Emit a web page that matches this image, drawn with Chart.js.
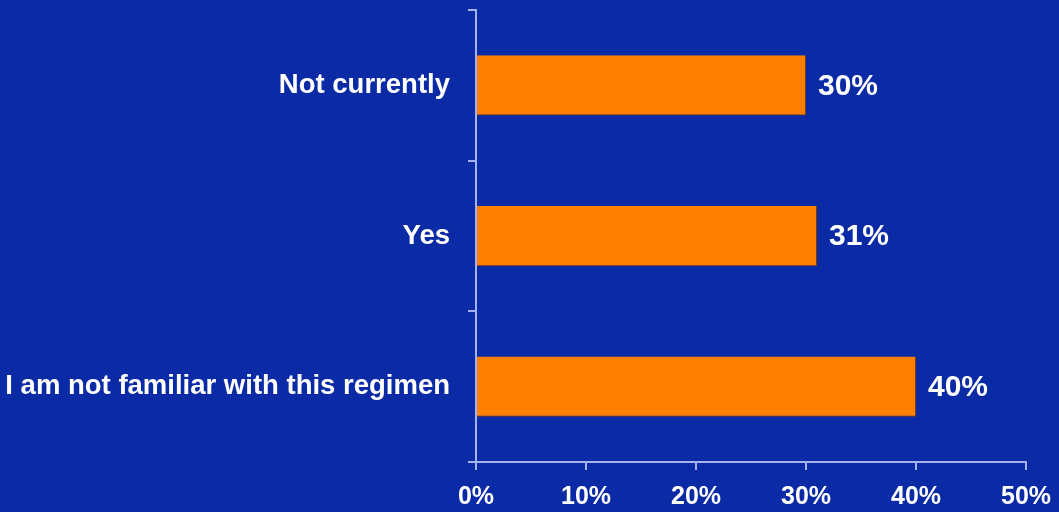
<!DOCTYPE html>
<html lang="en">
<head>
  <meta charset="UTF-8">
  <title>Regimen familiarity</title>
  <script src="https://cdn.jsdelivr.net/npm/chart.js"></script>
  <style>
    html, body { margin: 0; padding: 0; background: #0b2aa6; }
    #wrap { width: 1059px; height: 512px; }
  </style>
</head>
<body>
  <div id="wrap">
    <canvas id="barChart"></canvas>
  </div>

  <script>
    // values
    const categories = ['Not currently', 'Yes', 'I am not familiar with this regimen'];
    const percents = [30, 31, 40];
    const xTicks = [0, 10, 20, 30, 40, 50];

    const axisColor = '#a3b2ee';
    const family = '"Liberation Sans", Arial, sans-serif';

    // writes the value next to each bar end
    const valueLabels = {
      id: 'valueLabels',
      afterDatasetsDraw(chart) {
        const ctx = chart.ctx;
        const meta = chart.getDatasetMeta(0);
        ctx.save();
        ctx.fillStyle = '#ffffff';
        ctx.font = 'bold 30px ' + family;
        ctx.textAlign = 'left';
        ctx.textBaseline = 'middle';
        meta.data.forEach((bar, i) => {
          ctx.fillText(percents[i] + '%', bar.x + 12, bar.y + 1);
        });
        ctx.restore();
      }
    };

    const ctx = document.getElementById('barChart').getContext('2d');
    new Chart(ctx, {
      type: 'bar',
      data: {
        labels: categories,
        datasets: [{
          data: percents,
          backgroundColor: '#ff8000',
          borderColor: '#7a3a10',
          borderWidth: { right: 1, bottom: 1 },
          borderSkipped: 'left',
          categoryPercentage: 1,
          barPercentage: 0.4
        }]
      },
      options: {
        indexAxis: 'y',
        responsive: true,
        maintainAspectRatio: false,
        animation: false,
        layout: { padding: { top: 10, right: 33, left: 0, bottom: 0 } },
        plugins: {
          legend: { display: false },
          tooltip: { enabled: false }
        },
        scales: {
          x: {
            min: 0,
            max: 50,
            afterBuildTicks(scale) {
              scale.ticks = xTicks.map(v => ({ value: v }));
            },
            afterFit(scale) {
              scale.height = 50;
              scale.paddingLeft = 0;
              scale.paddingRight = 0;
            },
            grid: {
              drawOnChartArea: false,
              color: axisColor,
              lineWidth: 2,
              tickLength: 8
            },
            border: { color: axisColor, width: 2 },
            ticks: {
              color: '#ffffff',
              font: { family: family, size: 25, weight: 'bold' },
              padding: 12,
              maxRotation: 0,
              callback: v => v + '%'
            }
          },
          y: {
            afterFit(scale) {
              scale.width = 476;
              scale.paddingTop = 0;
              scale.paddingBottom = 0;
            },
            grid: {
              drawOnChartArea: false,
              color: axisColor,
              lineWidth: 2,
              tickLength: 8,
              offset: true
            },
            border: { color: axisColor, width: 2 },
            ticks: {
              color: '#ffffff',
              font: { family: family, size: 27.5, weight: 'bold' },
              padding: 18
            }
          }
        }
      },
      plugins: [valueLabels]
    });
  </script>
</body>
</html>
